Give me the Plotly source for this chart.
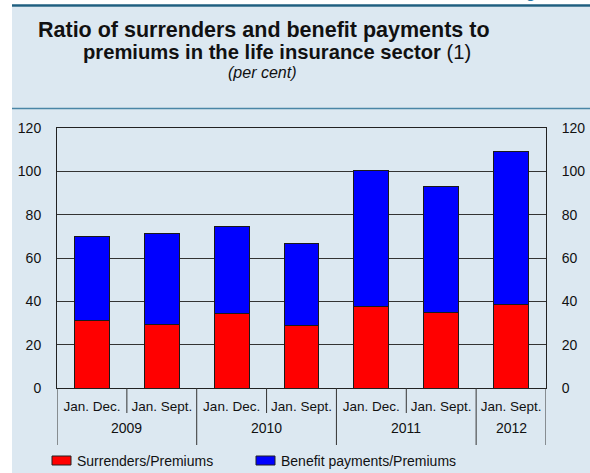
import plotly.graph_objects as go

# ---- data ----
years = ["2009", "2009", "2010", "2010", "2011", "2011", "2012"]
periods = ["Jan. Dec.", "Jan. Sept.", "Jan. Dec.", "Jan. Sept.", "Jan. Dec.", "Jan. Sept.", "Jan. Sept."]
surrenders = [31.3, 29.5, 34.2, 29.0, 37.8, 35.0, 38.7]
benefits_total = [70.0, 71.4, 74.5, 66.8, 100.2, 93.2, 109.0]
benefits = [round(t - s, 1) for t, s in zip(benefits_total, surrenders)]
series_names = ["Surrenders/Premiums", "Benefit payments/Premiums"]
series_colors = ["#ff0000", "#0000ff"]
y_ticks = [0, 20, 40, 60, 80, 100, 120]

W, H = 590, 473
L, R, T, B = 57, 44, 128, 85
PW, PH = W - L - R, H - T - B
FONT = "Liberation Sans, Arial, Helvetica, sans-serif"
PANEL = "#dce8f1"
TEAL = "#4a86a6"


def px(x):
    return (x - L) / PW


def py(y):
    return (H - B - y) / PH


xpos = list(range(len(periods)))

fig = go.Figure()
for vals, name, col in zip([surrenders, benefits], series_names, series_colors):
    fig.add_bar(x=xpos, y=vals, name=name,
                marker=dict(color=col, line=dict(color="#1a1a1a", width=1)),
                showlegend=False)
fig.add_scatter(x=[0], y=[None], yaxis="y2", showlegend=False, hoverinfo="skip")

shapes = [
    dict(type="rect", xref="paper", yref="paper", x0=px(12), x1=px(W), y0=py(7), y1=py(H),
         fillcolor=PANEL, line=dict(width=0), layer="below"),
    dict(type="line", xref="paper", yref="paper", x0=px(12), x1=px(W), y0=py(5.5), y1=py(5.5),
         line=dict(color="#1f5f80", width=2.5)),
    dict(type="line", xref="paper", yref="paper", x0=px(12), x1=px(W), y0=py(108.5), y1=py(108.5),
         line=dict(color=TEAL, width=1.5)),
]
annotations = [
    dict(text="<b>Ratio of surrenders and benefit payments to</b>", x=px(264), y=py(30),
         font=dict(size=21.5, color="#111")),
    dict(text="<b>premiums in the life insurance sector</b> (1)", x=px(277), y=py(52),
         font=dict(size=20.2, color="#111")),
    dict(text="<i>(per cent)</i>", x=px(262), y=py(72), font=dict(size=16, color="#111")),
    dict(text="<b><i>Figure 3.9</i></b>", x=px(588), y=py(3), xanchor="right", yanchor="bottom",
         font=dict(size=15, color="#2a78a8")),
]
for a in annotations:
    a.setdefault("xanchor", "center")
    a.setdefault("yanchor", "middle")
    a.update(xref="paper", yref="paper", showarrow=False)

# x-axis dividers: short between periods, long between years (and at the ends)
for i in range(len(periods) + 1):
    xb = i - 0.5
    is_long = i == 0 or i == len(periods) or years[i] != years[i - 1]
    shapes.append(dict(type="line", xref="x", yref="paper", x0=xb, x1=xb,
                       y0=py(388), y1=py(445 if is_long else 413),
                       line=dict(color="#333", width=1)))
# year labels centred on their groups
uniq = []
for y in years:
    if y not in uniq:
        uniq.append(y)
for y in uniq:
    idx = [i for i, v in enumerate(years) if v == y]
    annotations.append(dict(text=y, x=(idx[0] + idx[-1]) / 2, xref="x", y=py(428), yref="paper",
                            xanchor="center", yanchor="middle", showarrow=False,
                            font=dict(size=14, color="#111")))

# custom legend
leg_x = [52, 256]
for name, col, lx in zip(series_names, series_colors, leg_x):
    shapes.append(dict(type="rect", xref="paper", yref="paper", x0=px(lx), x1=px(lx + 19),
                       y0=py(456), y1=py(465), fillcolor=col, line=dict(color="#222", width=1)))
    annotations.append(dict(text=name, x=px(lx + 23), y=py(460.5), xanchor="left", yanchor="middle",
                            xref="paper", yref="paper", showarrow=False,
                            font=dict(size=14, color="#111")))

yax = dict(range=[0, 120], tickvals=y_ticks, ticks="", showline=True, linecolor="#222",
           linewidth=1, showgrid=True, gridcolor="#333", gridwidth=1, zeroline=False,
           tickfont=dict(size=14, color="#111"), ticklabelstandoff=12, fixedrange=True,
           automargin=False)

fig.update_layout(
    width=W, height=H, margin=dict(l=L, r=R, t=T, b=B),
    paper_bgcolor="white", plot_bgcolor="white",
    font=dict(family=FONT, color="#111"),
    barmode="stack", bargap=0.5,
    xaxis=dict(range=[-0.5, len(periods) - 0.5], tickvals=xpos, ticktext=periods,
               showline=True, linecolor="#222", linewidth=1, mirror=True, ticks="",
               tickfont=dict(size=13.5, color="#111"), ticklabelstandoff=6, showgrid=False,
               zeroline=False, automargin=False, tickangle=0, fixedrange=True),
    yaxis=yax,
    yaxis2=dict(yax, overlaying="y", side="right", showgrid=False),
    shapes=shapes, annotations=annotations,
)
fig.write_html("out.html", config={"displayModeBar": False},
               post_script="document.body.style.margin='0';document.body.style.overflow='hidden';")
